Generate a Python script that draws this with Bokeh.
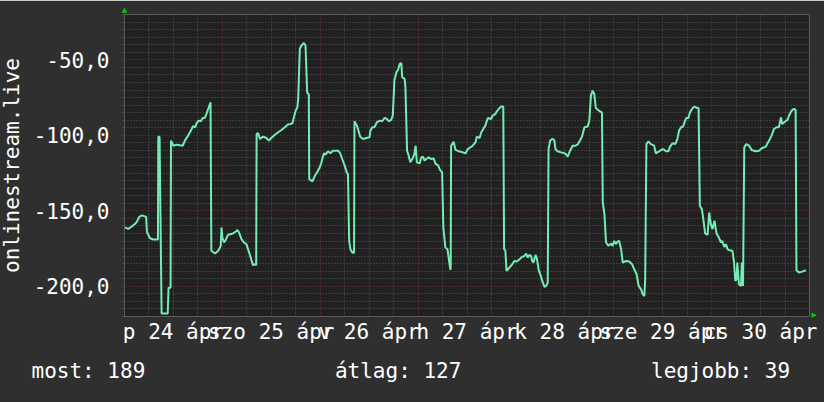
from bokeh.plotting import figure
from bokeh.models import FixedTicker, LinearAxis, Range1d, Title
from bokeh.embed import file_html
from bokeh.resources import INLINE

# hours since 2020-04-24 00:00 and plotted value (negated rank)
hours = [0.1, 0.9, 1.8, 2.6, 3.1, 3.6, 4.3, 5.3, 5.5, 6.2, 7.0, 8.2, 8.3, 8.6, 9.1, 10.6, 10.8, 11.3, 11.4,
         12.0, 12.8, 14.3, 14.8, 15.6, 16.5, 16.8, 17.3, 17.7, 18.2, 18.7, 19.2, 19.7, 20.1, 20.6, 21.1, 21.3,
         22.2, 23.0, 23.6, 23.8, 24.0, 24.4, 24.9, 25.4, 26.6, 27.3, 27.7, 28.1, 28.7, 29.3, 29.9, 30.3, 30.7,
         31.2, 31.5, 32.0, 32.3, 32.4,
         32.8, 33.2, 34.0, 34.8, 35.4, 36.0, 36.9, 37.7, 38.5, 39.3, 40.1, 40.7, 41.2, 41.5, 42.0, 42.4, 42.6,
         43.0, 43.4, 44.0, 44.4, 44.8, 45.0, 45.2, 45.3,
         46.1, 46.7, 47.2, 47.9, 48.3, 48.9, 49.3, 49.9, 50.5, 51.1, 52.4, 52.9, 53.4, 54.0, 54.6, 54.8, 55.1,
         55.4, 55.9, 56.3, 56.4,
         57.0, 57.5, 57.8, 58.5, 59.3, 60.1, 60.3, 60.8, 61.3, 61.9, 62.6, 63.2, 63.8, 64.4, 64.8, 65.4, 65.8,
         66.2, 66.7, 67.1, 67.5, 67.9, 68.1, 68.7, 68.9, 69.3, 69.7, 70.1, 70.6, 71.1, 71.4, 71.7, 72.4, 72.8,
         73.2, 73.6, 74.0, 74.6, 75.2, 75.8, 76.3, 76.9, 77.4, 77.9, 78.2, 78.7, 79.2, 79.5, 79.9, 80.0,
         80.1, 80.7, 81.2, 82.0, 83.0, 83.6, 84.2, 84.6, 85.4, 86.1, 86.4, 87.1, 87.5, 88.0, 88.5, 89.1, 89.9,
         90.3, 91.0, 91.3, 92.0, 92.4, 92.9, 93.1,
         93.4, 93.7, 94.4, 95.1, 95.6, 96.2, 96.9, 97.5, 98.1, 98.5, 98.9, 99.3, 99.7, 100.0, 100.3, 100.8,
         101.1, 101.6, 102.1, 102.6, 103.0, 103.4, 103.8, 104.0,
         104.4, 104.9, 105.4, 105.7, 106.2, 107.1, 107.9, 108.4, 108.7, 109.1, 109.5, 109.9, 110.6, 111.1,
         111.7, 112.2, 112.8, 113.6, 114.0, 114.4, 114.8, 115.2, 115.6, 116.3, 116.9, 117.1, 117.3, 117.7,
         118.1, 118.7, 119.3, 119.7, 120.1, 120.5, 120.9, 121.3, 121.8, 122.2, 123.0, 123.8, 124.5, 125.0,
         125.6, 126.1, 126.7, 127.1, 127.5, 127.7, 128.0,
         128.5, 129.1, 129.9, 130.3, 131.1, 132.0, 132.4, 132.8, 133.4, 133.8, 134.4, 135.1, 135.6, 136.0,
         136.5, 137.0, 137.5, 137.8, 138.3, 138.7, 139.2, 139.7, 140.5, 140.8, 141.1, 141.6, 141.9, 142.4,
         143.0, 143.4, 143.8, 144.2, 144.7, 145.2, 145.7, 146.3, 146.6, 147.1, 147.5, 147.9, 148.3, 149.1,
         149.5, 149.8, 150.1, 150.3, 150.7, 151.2, 151.4, 151.7, 152.0,
         152.5, 153.2, 153.8, 154.8, 155.6, 156.4, 157.3, 157.7, 158.3, 158.7, 159.3, 159.9, 160.5, 161.0,
         161.3, 161.8, 162.6, 163.0, 163.4, 163.8, 164.2, 164.6, 164.8, 165.4, 166.2, 167.1]

values = [-161, -162, -160.4, -158.6, -157, -154, -153, -154, -164, -168, -169, -169, -101, -101, -218, -218, -201, -201, -103.5,
          -106.9, -106.2, -106.9, -103.5, -100.2, -95.8, -94, -94.7, -92, -90.3, -90.7, -88.5, -88.5, -85.8, -81.9, -78.1, -176.5,
          -178.3, -176.5, -173.2, -161.1, -167.7, -171, -168.8, -165.9, -165, -163.7, -162.8, -164.4, -168.8, -171, -172.1, -175.4, -178.8,
          -183.2, -186, -185.4, -186, -99,
          -98.7, -102.4, -100.9, -101.8, -103.5, -101.8, -99.6, -98, -96.5, -94.7, -92.9, -92.5, -92, -88.5, -83.6, -81.4, -75.9,
          -42.7, -40.5, -38.9, -40.5, -71.5, -72.6, -72.6, -129,
          -130.5, -126.8, -124.6, -121.2, -117.9, -111.9, -112.8, -110.6, -111.9, -110.2, -110.2, -111.9, -115.7, -120.1, -125.2, -125.7, -169.9,
          -175.4, -177.7, -177.7, -90.7,
          -93.6, -98, -100.9, -102.4, -101.8, -101.3, -96.9, -94.7, -94.7, -91.4, -90.3, -90.7, -88.5, -89.2, -90.7, -89.8, -87,
          -63.3, -58.2, -56.6, -52.7, -52.2, -61.5, -62.6, -68.1, -110.2, -113.5, -117.9, -115.7, -112.4, -106.9, -117.9, -118.6, -114.6,
          -114.2, -116.8, -115.7, -114.6, -115.7, -115.3, -119, -119.7, -123, -124.6, -161.1, -174.3, -175.4, -181, -188.7, -188.7,
          -107, -104.2, -109.7, -110.6, -111.3, -112, -109.1, -108.4, -106.9, -104.6, -100.9, -101.8, -98, -95.8, -93.6, -88.5, -89.2,
          -86.9, -85.8, -84.1, -81.9, -81, -81, -175.4,
          -176.1, -189.8, -187.6, -185.4, -183.2, -183.6, -182.1, -180.5, -179.9, -178.3, -181, -179.2, -179.9, -183.2, -184.3, -179.2,
          -181, -189.4, -193.1, -197.6, -200.4, -199.8, -197.6, -109.1,
          -103.5, -102.4, -103.1, -109.1, -110.6, -111.3, -111.9, -112.8, -114.2, -111.3, -109.1, -106.9, -106.9, -106.2,
          -103.5, -100.9, -94.7, -94.2, -90.3, -73.7, -70.4, -72.6, -81.9, -83.6, -84.7, -84.7, -144.5, -152.2,
          -171, -173.2, -171.7, -173.2, -169.9, -172.1, -170.4, -169.9, -175.4, -184.3, -183.2, -183.6, -185.4, -188.7,
          -192, -199.8, -202, -205.3, -206.4, -195.4, -105.8,
          -104, -105.8, -106.9, -111.9, -110.6, -109.1, -109.7, -110.6, -110.6, -107.5, -105.3, -105.8, -102.4, -96.9,
          -94.7, -94.2, -90.3, -88.5, -88.5, -84.7, -82.5, -81, -81.9, -81.9, -146.7, -148.9, -154.4, -165,
          -165.9, -151.1, -158.8, -162.2, -156.6, -165, -167.3, -171, -169.9, -173.9, -172.1, -175.4, -176.1, -176.5,
          -184.3, -196.5, -195.4, -184.3, -198.7, -199.8, -184.3, -199.8, -108,
          -105.8, -106.9, -109.7, -110.6, -110.2, -108.4, -107.5, -105.3, -102.4, -100.2, -95.8, -94.7, -94.7, -88.1,
          -92.5, -91.4, -89.8, -86.9, -84.7, -83.2, -82.5, -83.2, -189.4, -190.9, -190.3, -189.4]

day_labels = ["p 24 ápr", "szo 25 ápr", "v 26 ápr", "h 27 ápr", "k 28 ápr", "sze 29 ápr", "cs 30 ápr"]
y_ticks = [-200, -150, -100, -50]
y_tick_labels = ["-200,0", "-150,0", "-100,0", "-50,0"]
series_name = "onlinestream.live"
stat_names = ["most", "átlag", "legjobb"]
stat_values = [189, 127, 39]

FONT = "DejaVu Sans Mono"
BG = "#2f2f2f"
LINE = "#74ecb4"
MAJOR = "#7a3434"
MINOR = "#565656"
ARROW = "#00cc00"

p = figure(width=828, height=402, output_backend="svg", toolbar_location=None,
           x_range=Range1d(0, 168), y_range=Range1d(-220, -20),
           background_fill_color="#212121", border_fill_color=BG,
           min_border_left=128, min_border_right=15, min_border_top=14, min_border_bottom=86,
           styles={"margin-left": "-4px"})
p.outline_line_color = None

noon = [12 + 24 * i for i in range(len(day_labels))]
day_edges = list(range(0, 169, 24))
six_h = [h for h in range(0, 169, 6) if h % 24]
minor_y = [v for v in range(-220, -19, 5) if v % 50]

p.xgrid.ticker = FixedTicker(ticks=day_edges, minor_ticks=six_h)
p.ygrid.ticker = FixedTicker(ticks=y_ticks, minor_ticks=minor_y)
for g in (p.xgrid, p.ygrid):
    g.grid_line_color = MAJOR
    g.grid_line_dash = "1 2"
    g.grid_line_width = 1
    g.minor_grid_line_color = MINOR
    g.minor_grid_line_dash = "1 2"
    g.minor_grid_line_width = 1

p.line(hours, values, line_color=LINE, line_width=2)

p.xaxis.ticker = FixedTicker(ticks=noon)
p.xaxis.major_label_overrides = dict(zip(noon, day_labels))
p.xaxis.major_tick_out = 0
p.xaxis.major_tick_in = 0
p.xaxis.minor_tick_out = 0
p.xaxis.axis_line_color = None
p.xaxis.major_label_standoff = 3

p.yaxis.ticker = FixedTicker(ticks=y_ticks, minor_ticks=minor_y)
p.yaxis.major_label_overrides = dict(zip(y_ticks, y_tick_labels))
p.yaxis.axis_line_color = None
p.yaxis.major_tick_out = 2
p.yaxis.major_tick_in = 0
p.yaxis.minor_tick_out = 2
p.yaxis.minor_tick_in = 0
p.yaxis.major_tick_line_color = MAJOR
p.yaxis.minor_tick_line_color = MINOR
p.yaxis.major_label_standoff = 13
p.yaxis.axis_label = series_name
p.yaxis.axis_label_standoff = 7
p.yaxis.axis_label_text_font = FONT
p.yaxis.axis_label_text_font_size = "21px"
p.yaxis.axis_label_text_font_style = "normal"
p.yaxis.axis_label_text_color = "#ffffff"

for ax in (p.xaxis, p.yaxis):
    ax.major_label_text_font = FONT
    ax.major_label_text_font_size = "21px"
    ax.major_label_text_color = "#ffffff"

# small green arrow heads at the axis ends
top_arrow = LinearAxis(ticker=FixedTicker(ticks=[0]), major_label_overrides={0: "▲"})
right_arrow = LinearAxis(ticker=FixedTicker(ticks=[-218.7]), major_label_overrides={-218.7: "▶"})
for ax in (top_arrow, right_arrow):
    ax.axis_line_color = None
    ax.major_tick_line_color = None
    ax.minor_tick_line_color = None
    ax.major_tick_out = 0
    ax.major_tick_in = 0
    ax.minor_tick_out = 0
    ax.major_label_text_font = "DejaVu Sans"
    ax.major_label_text_font_size = "7px"
    ax.major_label_text_color = ARROW
top_arrow.major_label_standoff = 1
right_arrow.major_label_standoff = 2
p.add_layout(top_arrow, "above")
p.add_layout(right_arrow, "right")

# statistics legend line (monospace, non-breaking spaces keep the columns)
stats = [f"{n}: {v}" for n, v in zip(stat_names, stat_values)]
stat_cols = [0, 24, 49]
line_txt = ""
for col, s in zip(stat_cols, stats):
    line_txt += "\u00a0" * (col - len(line_txt)) + s
p.add_layout(Title(text=line_txt, align="left", offset=-93, standoff=21,
                   text_font=FONT, text_font_size="21px", text_font_style="normal",
                   text_color="#ffffff"), "below")

open("out.html", "w").write(file_html(p, INLINE))
